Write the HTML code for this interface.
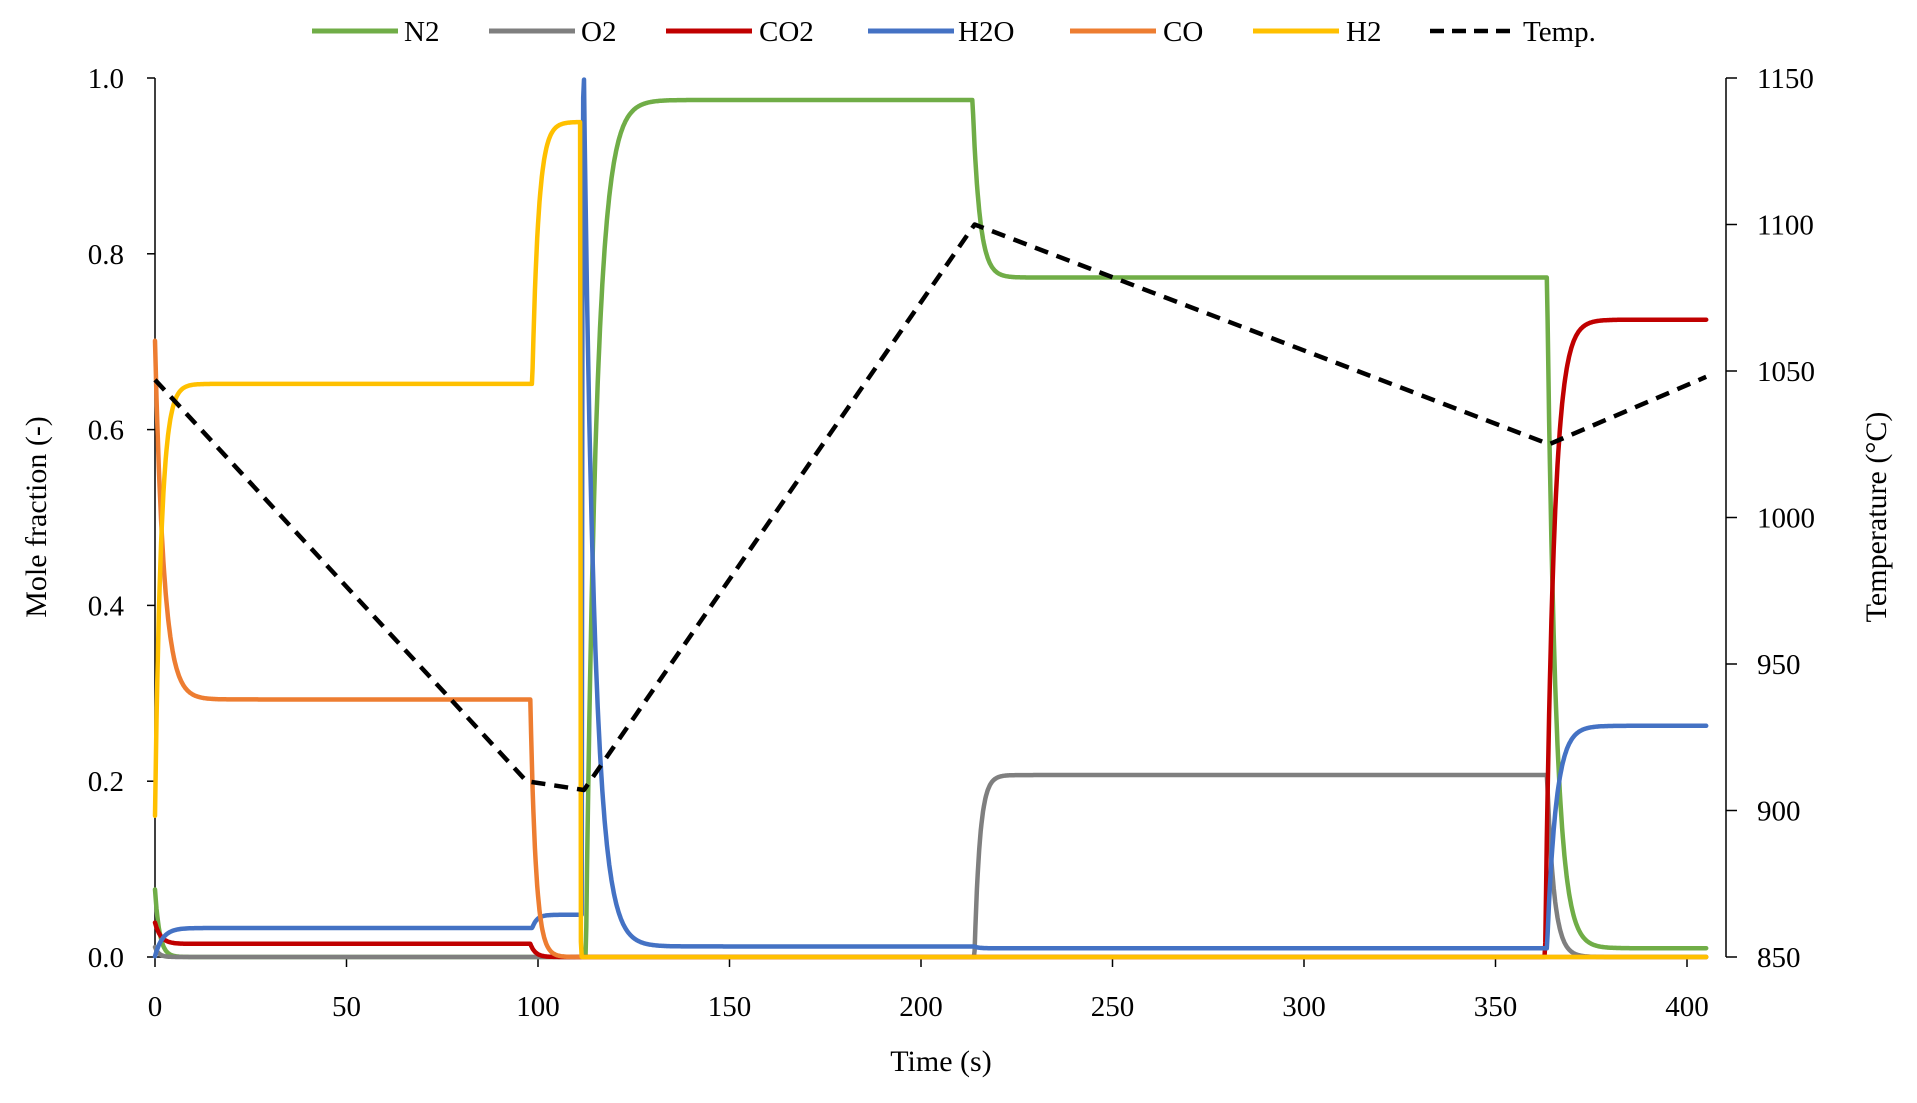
<!DOCTYPE html>
<html><head><meta charset="utf-8"><style>
html,body{margin:0;padding:0;background:#fff;}
svg{display:block;font-family:"Liberation Serif",serif;}
</style></head><body>
<svg id="s" width="1917" height="1103" viewBox="0 0 1917 1103" xmlns="http://www.w3.org/2000/svg">
<g font-size="29" fill="#000">
<line x1="312" y1="31" x2="398" y2="31" stroke="#70AD47" stroke-width="5"/><text x="404" y="41">N2</text>
<line x1="489" y1="31" x2="575" y2="31" stroke="#7F7F7F" stroke-width="5"/><text x="581" y="41">O2</text>
<line x1="666" y1="31" x2="752" y2="31" stroke="#C00000" stroke-width="5"/><text x="759" y="41">CO2</text>
<line x1="868" y1="31" x2="954" y2="31" stroke="#4472C4" stroke-width="5"/><text x="958" y="41">H2O</text>
<line x1="1070" y1="31" x2="1156" y2="31" stroke="#ED7D31" stroke-width="5"/><text x="1163" y="41">CO</text>
<line x1="1253" y1="31" x2="1339" y2="31" stroke="#FFC000" stroke-width="5"/><text x="1346" y="41">H2</text>
<line x1="1430" y1="31" x2="1516" y2="31" stroke="#000" stroke-width="4.5" stroke-dasharray="14,8"/><text x="1523" y="41">Temp.</text>
</g>
<g id="axes" stroke="#000" stroke-width="1.5" fill="none"></g>
<g id="labels" font-size="29" fill="#000"></g>
<g id="series" fill="none" stroke-linejoin="round" stroke-linecap="round"></g>
<text x="941" y="1071" font-size="30" text-anchor="middle">Time (s)</text>
<text transform="translate(46,517) rotate(-90)" font-size="30" text-anchor="middle">Mole fraction (-)</text>
<text transform="translate(1886,517) rotate(-90)" font-size="30" text-anchor="middle">Temperature (°C)</text>
</svg>
<script>
var X0=155,XS=3.83,Y0=957,YS=879;
function X(t){return X0+t*XS;}function Y(v){return Y0-v*YS;}function YT(T){return Y0-(T-850)/300*YS;}
var ax=document.getElementById('axes'),lb=document.getElementById('labels'),sr=document.getElementById('series');
var ns='http://www.w3.org/2000/svg';
function el(p,tag,a,txt){var e=document.createElementNS(ns,tag);for(var k in a)e.setAttribute(k,a[k]);if(txt)e.textContent=txt;p.appendChild(e);return e;}
el(ax,'line',{x1:X0,y1:78,x2:X0,y2:Y0});
el(ax,'line',{x1:1726,y1:78,x2:1726,y2:Y0});
el(ax,'line',{x1:X0,y1:Y0,x2:1708,y2:Y0});
for(var i=0;i<=5;i++){var y=Y(i*0.2);el(ax,'line',{x1:X0-8,y1:y,x2:X0,y2:y});el(lb,'text',{x:124,y:y+10,'text-anchor':'end'},(i*0.2).toFixed(1));}
for(var i=0;i<=6;i++){var T=850+50*i,y=YT(T);el(ax,'line',{x1:1726,y1:y,x2:1737,y2:y});el(lb,'text',{x:1757,y:y+10},String(T));}
for(var i=0;i<=8;i++){var x=X(i*50);el(ax,'line',{x1:x,y1:Y0,x2:x,y2:Y0+10});el(lb,'text',{x:x,y:1016,'text-anchor':'middle'},String(i*50));}
function gen(v0,segs){var pts=[],v=v0,dt=0.05,si=0;for(var t=0;t<=405.001;t+=dt){while(si<segs.length&&t>=segs[si][0])si++;if(si>0){var s=segs[si-1];v+=(s[1]-v)*(1-Math.exp(-dt/s[2]));}if(Math.round(t/dt)%4==0)pts.push(X(t).toFixed(1)+','+Y(v).toFixed(1));}return pts.join(' ');}
var S=[
['#70AD47',0.08,[[0,0,1.2],[112.5,0.975,2.8],[213.5,0.773,1.8],[363.5,0.01,2.3]]],
['#7F7F7F',0.012,[[0,0,1],[214,0.207,1.4],[363.5,0,1.8]]],
['#C00000',0.04,[[0,0.015,1.5],[98,0,1.3],[363,0.725,2.2]]],
['#4472C4',0.0,[[0,0.033,2],[98.5,0.048,1.2],[111.5,1.0,0.08],[112,0.012,2.8],[214,0.01,1],[363.5,0.263,2.3]]],
['#ED7D31',0.71,[[0,0.293,2.3],[98,0,1.4]]],
['#FFC000',0.145,[[0,0.652,1.6],[98.5,0.95,1.6],[111,0,0.05]]]
];
S.forEach(function(s){el(sr,'polyline',{points:gen(s[1],s[2]),stroke:s[0],'stroke-width':4.5});});
var tp=[[0,1047],[97,910],[112,907],[214,1100],[364,1025],[405,1048]].map(function(p){return X(p[0])+','+YT(p[1]);}).join(' ');
el(sr,'polyline',{points:tp,stroke:'#000','stroke-width':4.5,'stroke-dasharray':'14,9','stroke-linecap':'butt'});
</script>
</body></html>
